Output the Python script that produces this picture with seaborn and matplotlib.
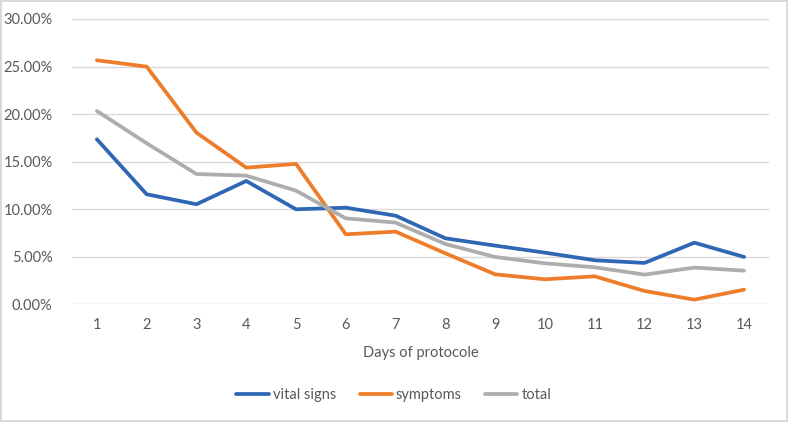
import pandas as pd
import numpy as np
import matplotlib.pyplot as plt
import seaborn as sns
from matplotlib.ticker import PercentFormatter

# valeurs (en %)
days = list(range(1, 15))
vital_signs = [17.35, 11.57, 10.52, 12.97, 9.99, 10.16, 9.32, 6.94, 6.17, 5.43, 4.63, 4.35, 6.48, 4.98]
symptoms = [25.66, 24.99, 18.05, 14.37, 14.76, 7.36, 7.64, 5.36, 3.15, 2.63, 2.94, 1.40, 0.49, 1.54]
total = [20.33, 16.93, 13.70, 13.53, 11.95, 9.04, 8.59, 6.34, 4.98, 4.31, 3.89, 3.12, 3.86, 3.54]
series_names = ['vital signs', 'symptoms', 'total']

df = pd.DataFrame({'day': days, 'vital signs': vital_signs, 'symptoms': symptoms, 'total': total})
df_long = df.melt(id_vars='day', value_vars=series_names, var_name='serie', value_name='pct')

sns.set_style('white')
plt.rcParams['font.family'] = ['Lato', 'DejaVu Sans']

fig = plt.figure(figsize=(7.88, 4.22), dpi=100)
fig.patch.set_edgecolor('#d9d9d9')
fig.patch.set_linewidth(1.5)
ax = fig.add_axes([72 / 788, 1 - 304.3 / 422, 697 / 788, (304.3 - 19) / 422])

palette = {'vital signs': '#2F67B5', 'symptoms': '#EE7D2B', 'total': '#ADADAD'}
sns.lineplot(data=df_long, x='day', y='pct', hue='serie', palette=palette,
             linewidth=2.7, ax=ax, legend=False)

ax.set_xlim(0.5, 14.5)
ax.set_ylim(0, 30)
ax.set_yticks(np.arange(0, 31, 5))
ax.set_xticks(days)
ax.yaxis.set_major_formatter(PercentFormatter(decimals=2))
ax.grid(axis='y', color='#d9d9d9', linewidth=1)
ax.set_axisbelow(True)
for s in ax.spines.values():
    s.set_visible(False)
ax.tick_params(axis='both', length=0, labelsize=10.5, labelcolor='#595959')
ax.tick_params(axis='y', pad=14)
ax.tick_params(axis='x', pad=10)
ax.set_xlabel('Days of protocole', fontsize=10.5, color='#595959', labelpad=10)
ax.set_ylabel('')

handles = [plt.Line2D([], [], color=palette[n], linewidth=2.7) for n in series_names]
fig.legend(handles, series_names, loc='center', bbox_to_anchor=(0.5, 1 - 395 / 422),
           ncol=3, frameon=False, fontsize=10.5, handlelength=2.2, handletextpad=0.3,
           columnspacing=1.6, labelcolor='#595959')

plt.savefig('out.png', dpi=100, edgecolor=fig.get_edgecolor())
